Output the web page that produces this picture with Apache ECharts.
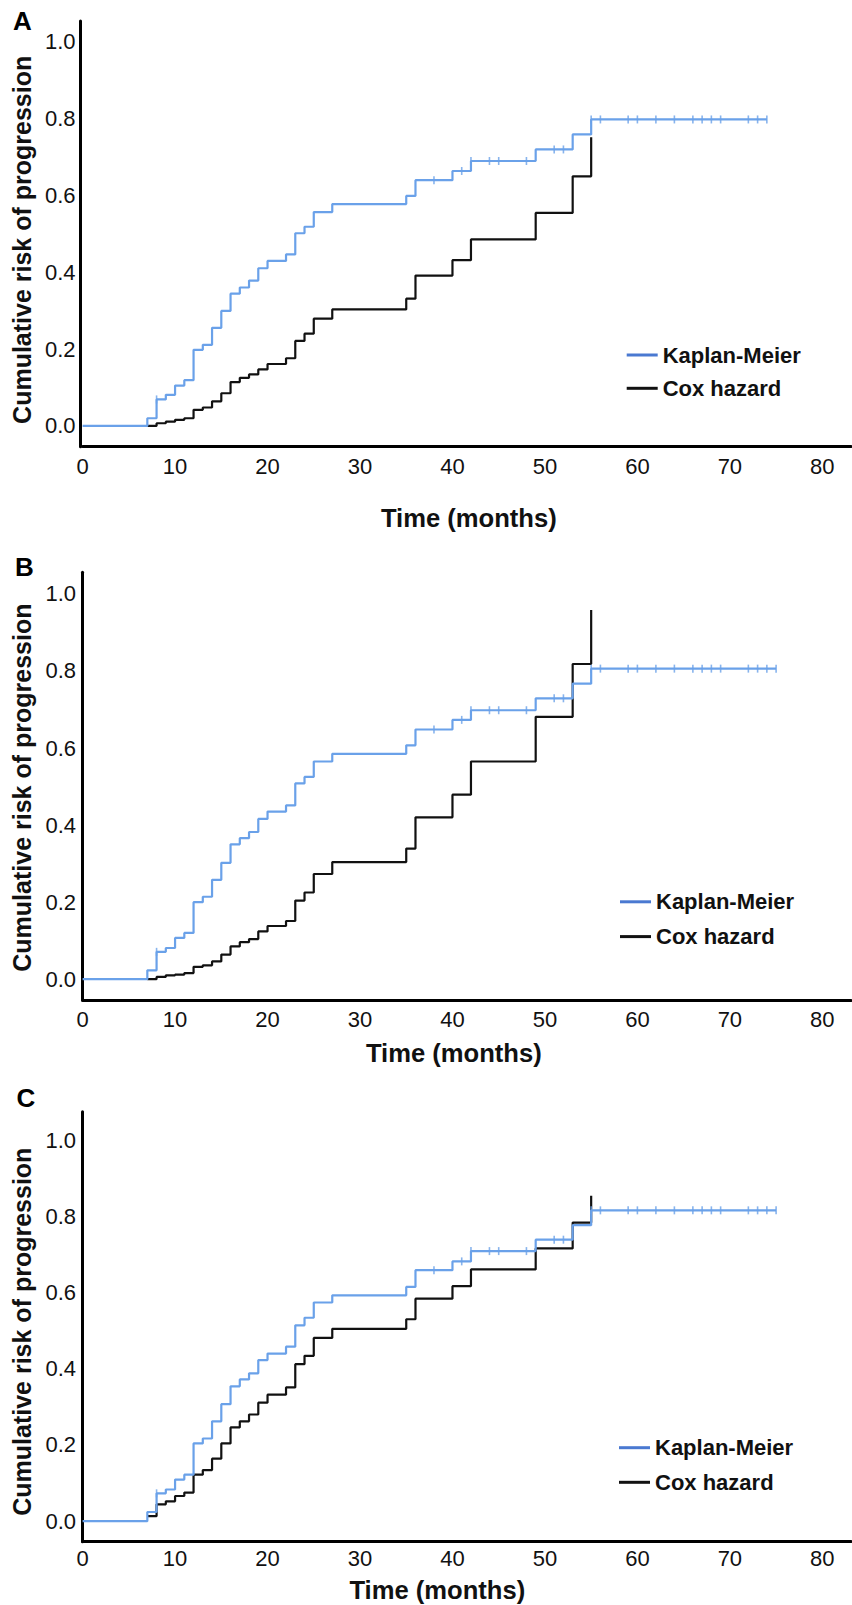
<!DOCTYPE html>
<html>
<head>
<meta charset="utf-8">
<script src="https://cdn.jsdelivr.net/npm/echarts@6/dist/echarts.min.js"></script>
<style>
html,body{margin:0;padding:0;background:#fff;}
#c{width:852px;height:1605px;}
</style>
</head>
<body>
<div id="c"></div>
<script>
// ---------- data ----------
const eventTimes = [0, 7, 8, 9, 10, 11, 12, 13, 14, 15, 16, 17, 18, 19, 20, 22, 23, 24, 25, 27, 35, 36, 40, 42, 49, 53, 55];
const kmA = [0, 0.020, 0.069, 0.081, 0.105, 0.119, 0.198, 0.211, 0.255, 0.299, 0.344, 0.360, 0.378, 0.410, 0.429, 0.446, 0.501, 0.518, 0.556, 0.577, 0.598, 0.639, 0.663, 0.689, 0.719, 0.758, 0.797];
const kmB = [0, 0.023, 0.071, 0.081, 0.107, 0.120, 0.200, 0.214, 0.258, 0.302, 0.350, 0.366, 0.382, 0.416, 0.435, 0.451, 0.508, 0.525, 0.565, 0.585, 0.607, 0.648, 0.673, 0.698, 0.729, 0.767, 0.806];
const kmC = [0, 0.024, 0.073, 0.083, 0.109, 0.122, 0.204, 0.217, 0.262, 0.307, 0.354, 0.372, 0.388, 0.423, 0.440, 0.458, 0.514, 0.534, 0.574, 0.593, 0.615, 0.659, 0.682, 0.709, 0.739, 0.777, 0.816];

const coxTimes = [7, 8, 9, 10, 11, 12, 13, 14, 15, 16, 17, 18, 19, 20, 22, 23, 24, 25, 27, 35, 36, 40, 42, 49, 53, 55];
const coxA = [0, 0.007, 0.011, 0.016, 0.020, 0.042, 0.048, 0.064, 0.085, 0.114, 0.125, 0.134, 0.147, 0.161, 0.176, 0.221, 0.240, 0.279, 0.303, 0.331, 0.391, 0.431, 0.485, 0.554, 0.649, 0.751];
const coxB = [0, 0.006, 0.010, 0.012, 0.016, 0.032, 0.036, 0.046, 0.064, 0.085, 0.096, 0.104, 0.124, 0.138, 0.151, 0.204, 0.225, 0.273, 0.304, 0.339, 0.420, 0.479, 0.565, 0.681, 0.818, 0.958];
const coxC = [0.013, 0.044, 0.052, 0.066, 0.075, 0.122, 0.134, 0.164, 0.204, 0.246, 0.262, 0.280, 0.311, 0.332, 0.351, 0.412, 0.434, 0.481, 0.505, 0.530, 0.584, 0.617, 0.661, 0.716, 0.784, 0.854];

const censorA = [8, 38, 41, 42, 44, 45, 48, 51, 52, 55, 56, 59, 60, 62, 64, 66, 67, 68, 69, 72, 73, 74];
const censorB = [8, 38, 41, 42, 44, 45, 48, 51, 52, 55, 56, 59, 60, 62, 64, 66, 67, 68, 69, 72, 73, 74, 75];
const censorC = [8, 38, 41, 42, 44, 45, 48, 51, 52, 55, 56, 59, 60, 62, 64, 66, 67, 68, 69, 72, 73, 74, 75];

const xTicks = [0, 10, 20, 30, 40, 50, 60, 70, 80];
const yTicks = [0, 0.2, 0.4, 0.6, 0.8, 1.0];
const seriesNames = ['Kaplan-Meier', 'Cox hazard'];
const panelLetters = ['A', 'B', 'C'];

// ---------- layout / style ----------
const FONT = '"Liberation Sans", Arial, Helvetica, sans-serif';
const KM_COLOR = '#6aa1e9';
const KM_LEGEND_COLOR = '#4a79d1';
const COX_COLOR = '#111111';
const TEXT_COLOR = '#111111';

const layout = [
  {grid:{left:82.6, top:21, width:768.4, height:425.7}, yMax:1.053, yOffset:2, yLabelMargin:5, yNameGap:45, yNamePad:[0,12,0,0],
   xLabelMargin:8.5, xNameGap:58.5, xNamePad:[0,0,0,4], legend:{left:626.7, top:343, gap:9.3}, letter:[13, 23]},
  {grid:{left:82.6, top:572.3, width:768.4, height:427.7}, yMax:1.056, yOffset:0, yLabelMargin:6.5, yNameGap:47, yNamePad:[0,3,0,0],
   xLabelMargin:8.5, xNameGap:40, xNamePad:[0,26,0,0], legend:{left:620, top:889.8, gap:10.8}, letter:[15, 569]},
  {grid:{left:82.6, top:1111.7, width:768.4, height:430}, yMax:1.075, yOffset:0, yLabelMargin:6.5, yNameGap:47, yNamePad:[0,10,0,0],
   xLabelMargin:5.5, xNameGap:35.2, xNamePad:[0,59,0,0], legend:{left:619, top:1435.7, gap:10.6}, letter:[16.5, 1100]}
];
const X_MAX = 83.1, Y_MIN = -0.054;

const kmSets = [kmA, kmB, kmC];
const coxSets = [coxA, coxB, coxC];
const censorSets = [censorA, censorB, censorC];

function kmAt(values, t) {
  let v = 0;
  for (let i = 0; i < eventTimes.length; i++) if (eventTimes[i] <= t) v = values[i];
  return v;
}

const grids = [], xAxes = [], yAxes = [], series = [], legends = [], graphics = [];

layout.forEach((L, i) => {
  grids.push(Object.assign({outerBoundsMode:'none', containLabel:false}, L.grid));
  xAxes.push({
    type:'value', gridIndex:i, min:0, max:X_MAX,
    axisLine:{show:true, onZero:false, lineStyle:{color:'#000', width:3}},
    axisTick:{show:false}, splitLine:{show:false},
    axisLabel:{customValues:xTicks, margin:L.xLabelMargin, color:TEXT_COLOR, fontSize:22, fontFamily:FONT,
               formatter:v => String(Math.round(v))},
    name:'Time (months)', nameLocation:'middle', nameGap:L.xNameGap,
    nameTextStyle:{fontSize:25.6, fontWeight:'bold', color:TEXT_COLOR, fontFamily:FONT, padding:L.xNamePad}
  });
  yAxes.push({
    type:'value', gridIndex:i, min:Y_MIN, max:L.yMax, offset:L.yOffset,
    axisLine:{show:true, onZero:false, lineStyle:{color:'#000', width:3}},
    axisTick:{show:false}, splitLine:{show:false},
    axisLabel:{customValues:yTicks, margin:L.yLabelMargin, color:TEXT_COLOR, fontSize:22, fontFamily:FONT,
               formatter:v => v.toFixed(1)},
    name:'Cumulative risk of progression', nameLocation:'middle', nameRotate:90, nameGap:L.yNameGap,
    nameTextStyle:{fontSize:25, fontWeight:'bold', color:TEXT_COLOR, fontFamily:FONT, padding:L.yNamePad}
  });

  const km = kmSets[i], cox = coxSets[i], cens = censorSets[i];
  const kmData = eventTimes.map((t, k) => [t, km[k]]);
  const kmEnd = cens[cens.length - 1];
  kmData.push([kmEnd, km[km.length - 1]]);
  const coxData = coxTimes.map((t, k) => [t, cox[k]]);

  series.push({
    name:seriesNames[1], type:'line', xAxisIndex:i, yAxisIndex:i, step:'end', data:coxData,
    showSymbol:false, symbol:'none', z:2, lineStyle:{color:COX_COLOR, width:2.2}, itemStyle:{color:COX_COLOR},
    silent:true
  });
  series.push({
    name:seriesNames[0], type:'line', xAxisIndex:i, yAxisIndex:i, step:'end', data:kmData,
    showSymbol:false, symbol:'none', z:3, lineStyle:{color:KM_COLOR, width:2.2}, itemStyle:{color:KM_COLOR},
    silent:true
  });
  series.push({
    name:'censored', type:'scatter', xAxisIndex:i, yAxisIndex:i,
    data:cens.map(t => [t, kmAt(km, t)]),
    symbol:'rect', symbolSize:[1.6, 8], z:4, itemStyle:{color:KM_COLOR}, silent:true
  });

  legends.push({
    orient:'vertical', left:L.legend.left, top:L.legend.top, padding:0, itemGap:L.legend.gap,
    itemWidth:31, itemHeight:3, icon:'rect', selectedMode:false,
    textStyle:{fontSize:22, fontWeight:'bold', color:TEXT_COLOR, fontFamily:FONT, lineHeight:24},
    data:[
      {name:seriesNames[0], icon:'rect', itemStyle:{color:KM_LEGEND_COLOR, borderWidth:0}},
      {name:seriesNames[1], icon:'rect', itemStyle:{color:COX_COLOR, borderWidth:0}}
    ]
  });

  graphics.push({
    type:'text', left:L.letter[0], top:L.letter[1] - 15,
    style:{text:panelLetters[i], fill:'#000', font:'bold 26px ' + FONT}
  });
});

const chart = echarts.init(document.getElementById('c'), null, {renderer:'svg', width:852, height:1605});
chart.setOption({
  animation:false,
  backgroundColor:'#ffffff',
  grid:grids, xAxis:xAxes, yAxis:yAxes, series:series, legend:legends, graphic:graphics
});
</script>
</body>
</html>
